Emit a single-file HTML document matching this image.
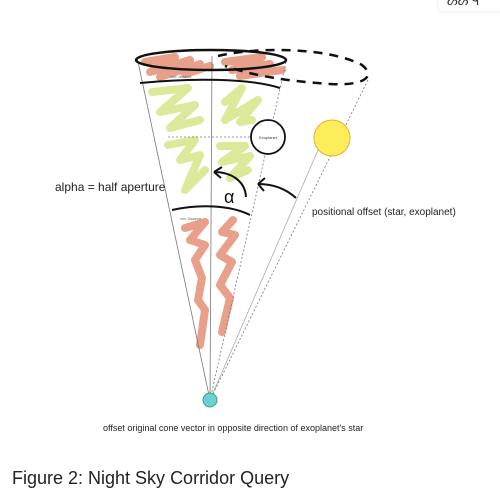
<!DOCTYPE html>
<html><head><meta charset="utf-8"><style>
body{margin:0;background:#fff;width:500px;height:495px;overflow:hidden;font-family:"Liberation Sans",sans-serif}
svg{position:absolute;left:0;top:0}
</style></head><body>
<svg width="500" height="495" viewBox="0 0 500 495">
<rect x="438" y="-10" width="70" height="22" rx="4" fill="#fff" stroke="#eee"/>
<text x="447" y="5" font-size="12" fill="#333">ᔕᔕ ᑫ</text>
<g fill="none" stroke-linecap="round" stroke-linejoin="round" stroke-width="8">
<polyline stroke="#e9a08a" points="145,62 175,57 150,72 190,60 160,77 200,64 185,74 210,66"/>
<polyline stroke="#e9a08a" points="225,62 262,57 232,70 270,64 240,76 282,70"/>
<polyline stroke="#dde99a" points="152,92 188,88 160,112 195,105 170,128 200,120"/>
<polyline stroke="#dde99a" points="225,102 242,88 225,120 258,100 240,122 252,120"/>
<polyline stroke="#dde99a" points="168,145 195,140 180,160 200,155 185,190 205,170"/>
<polyline stroke="#dde99a" points="220,146 245,146 222,162 250,156 230,178 248,170"/>
<polyline stroke="#e9a08a" points="185,228 205,222 190,240 205,245 195,260 202,278 198,300 205,310 200,345"/>
<polyline stroke="#e9a08a" points="233,220 222,232 235,235 220,255 232,262 220,285 230,298 222,332"/>
</g>
<g stroke="#777" stroke-width="0.8" fill="none">
<line x1="137" y1="57" x2="210" y2="400"/>
<line x1="212" y1="56" x2="210" y2="400"/>
<line x1="286" y1="62" x2="210" y2="400" stroke-dasharray="2,2"/>
<line x1="368" y1="80" x2="210" y2="400" stroke-dasharray="2,2"/>
<line x1="318" y1="150" x2="210" y2="400" stroke="#aaa"/>
<line x1="250" y1="137" x2="166" y2="137" stroke-dasharray="2,2"/>
</g>
<ellipse cx="211" cy="60" rx="75" ry="10" fill="none" stroke="#111" stroke-width="2.5"/>
<path d="M218,56 C260,46 330,48 362,65 C378,78 360,86 330,84 C300,82 260,78 225,66" fill="none" stroke="#111" stroke-width="2.5" stroke-dasharray="9,7"/>
<path d="M140,83 C190,78 250,78 280,88" fill="none" stroke="#111" stroke-width="2"/>
<path d="M172,210 C200,204 230,205 250,215" fill="none" stroke="#111" stroke-width="2"/>
<text x="170" y="78" font-size="3.5" fill="#666">max. distance</text>
<text x="180" y="220" font-size="3.5" fill="#666">min. Distance</text>
<circle cx="268" cy="137" r="17" fill="#fff" stroke="#111" stroke-width="1.8"/>
<text x="268" y="139" font-size="4" fill="#333" text-anchor="middle">Exoplanet</text>
<circle cx="332" cy="138" r="18" fill="#fbee5a" stroke="#e8b030" stroke-width="1"/>
<path d="M246,197 C245,180 230,172 214,172 M214,172 L222,167 M214,172 L221,178" fill="none" stroke="#111" stroke-width="2"/>
<path d="M296,198 C285,188 272,184 258,184 M258,184 L265,178 M258,184 L264,191" fill="none" stroke="#111" stroke-width="2"/>
<text x="224" y="203" font-size="18" fill="#111">α</text>
<circle cx="210" cy="400" r="7" fill="#6ccfd0" stroke="#3aa28a" stroke-width="1"/>
<text x="55" y="191" font-size="12" fill="#222">alpha = half aperture</text>
<text x="312" y="215" font-size="10" fill="#222">positional offset (star, exoplanet)</text>
<text x="103" y="431" font-size="9" fill="#222">offset original cone vector in opposite direction of exoplanet's star</text>
<text x="12" y="484" font-size="18" fill="#222">Figure 2: Night Sky Corridor Query</text>
</svg>
</body></html>
